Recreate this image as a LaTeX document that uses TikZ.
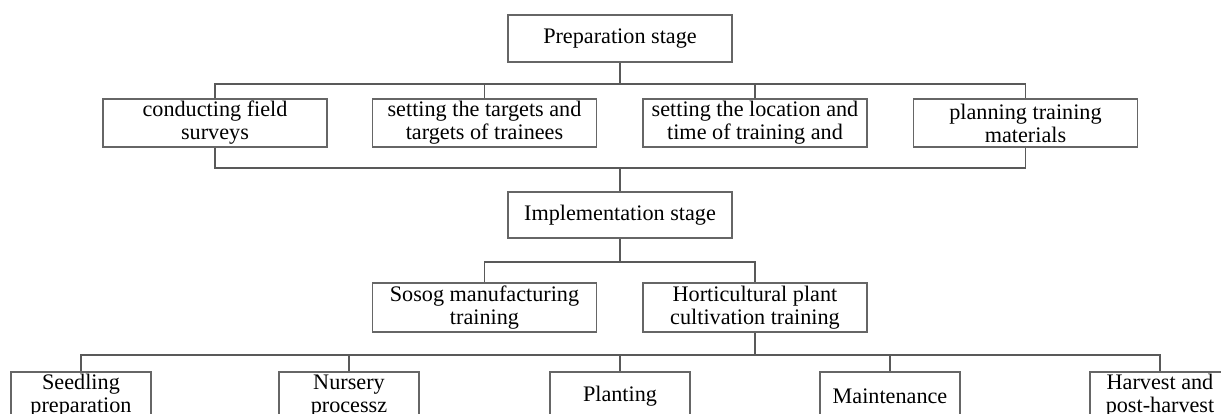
\documentclass[tikz,border=0pt]{standalone}
\usepackage{fontspec}
\setmainfont{Liberation Serif}
\begin{document}
\begin{tikzpicture}[x=1pt,y=-1pt,
  box/.style={draw=black!60, line width=1.4pt, inner sep=0pt, align=center,
    font=\fontsize{22.2}{23}\selectfont, minimum height=48pt},
  wide/.style={box, minimum width=224pt},
  narrow/.style={box, minimum width=140pt},
  link/.style={draw=black!65, line width=1.4pt}]
\useasboundingbox (0,0) rectangle (1221,414);
\clip (0,0) rectangle (1221,414);
% top
\node[wide, minimum height=47pt] (prep) at (620,38.5) {Preparation stage};
\node[wide] (a) at (215,123) {conducting field\\surveys};
\node[wide] (b) at (484.5,123) {setting the targets and\\targets of trainees};
\node[wide] (c) at (755,123) {setting the location and\\time of training and};
\node[wide] (d) at (1025.5,123) {planning training\\materials};
\node[wide, minimum height=46pt] (impl) at (620,215) {Implementation stage};
\node[wide, minimum height=49pt] (sosog) at (484.5,307.5) {Sosog manufacturing\\training};
\node[wide, minimum height=49pt] (hort) at (755,307.5) {Horticultural plant\\cultivation training};
\node[narrow] (s1) at (81,396) {Seedling\\preparation};
\node[narrow] (s2) at (349,396) {Nursery\\processz};
\node[narrow] (s3) at (620,396) {Planting};
\node[narrow] (s4) at (890,396) {Maintenance};
\node[narrow] (s5) at (1160,396) {Harvest and\\post-harvest};
% junctions
\coordinate (j1) at (620,84);
\coordinate (j2) at (620,168);
\coordinate (j3) at (620,262);
\coordinate (j4) at (755,355);
% connectors
\draw[link] (prep.south) -- (j1);
\draw[link] (a.north) -- (a.north |- j1) -- (d.north |- j1) -- (d.north);
\draw[link] (b.north) -- (b.north |- j1);
\draw[link] (c.north) -- (c.north |- j1);
\draw[link] (a.south) -- (a.south |- j2) -- (d.south |- j2) -- (d.south);
\draw[link] (j2) -- (impl.north);
\draw[link] (impl.south) -- (j3);
\draw[link] (sosog.north) -- (sosog.north |- j3) -- (hort.north |- j3) -- (hort.north);
\draw[link] (hort.south) -- (j4);
\draw[link] (s1.north) -- (s1.north |- j4) -- (s5.north |- j4) -- (s5.north);
\draw[link] (s2.north) -- (s2.north |- j4);
\draw[link] (s3.north) -- (s3.north |- j4);
\draw[link] (s4.north) -- (s4.north |- j4);
\end{tikzpicture}
\end{document}
